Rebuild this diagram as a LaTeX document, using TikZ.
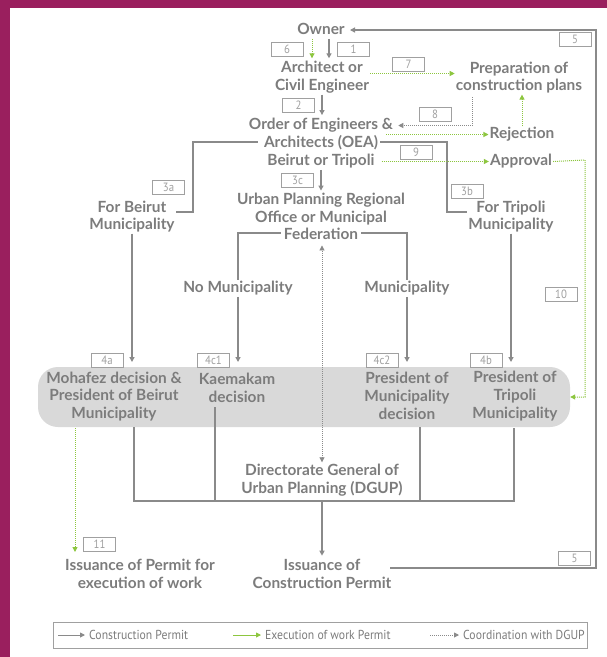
\documentclass[tikz,border=0pt]{standalone}
\usepackage{fontspec}
\setmainfont{Lato}
\newfontfamily\condf[FakeStretch=0.9]{PT Sans}
\usetikzlibrary{arrows.meta,calc}
\definecolor{magbar}{HTML}{9A1F5E}
\definecolor{txtg}{HTML}{7C7C7C}
\definecolor{lineg}{HTML}{8A8A8A}
\definecolor{boxg}{HTML}{D9D9D9}
\definecolor{numg}{HTML}{A0A0A0}
\definecolor{grn}{HTML}{8DC63F}
\tikzset{
  lbl/.style={font=\fontsize{15.4}{17.8}\selectfont\bfseries, text=txtg, align=center, inner sep=1pt},
  row/.style={lbl, text height=11pt, text depth=3.5pt, yshift=-1.5pt},
  num/.style={draw=numg, line width=0.8pt, minimum width=32pt, minimum height=14pt, inner sep=0pt,
              font=\condf\fontsize{12}{12}\selectfont, text=numg},
  legt/.style={font=\condf\fontsize{13}{13}\selectfont, text=txtg, inner sep=0pt},
  tipa/.style={-{Triangle[length=5pt,width=5pt]}},
  cp/.style={draw=lineg, line width=1.2pt},
  cpa/.style={cp, tipa},
  ep/.style={draw=grn, line width=1pt, dash pattern=on 1pt off 1pt},
  epa/.style={ep, tipa},
  co/.style={draw=lineg, line width=0.9pt, dash pattern=on 1pt off 1pt},
  coa/.style={co, tipa},
}
\begin{document}
\begin{tikzpicture}[x=1pt,y=-1pt]
\useasboundingbox (0,0) rectangle (607,657);
\fill[white] (0,0) rectangle (607,657);
\fill[magbar] (0,0) rectangle (10,657);
\fill[magbar] (0,0) rectangle (607,8);

% grey rounded band
\node[fill=boxg, rounded corners=20pt, minimum width=532pt, minimum height=60pt, inner sep=0pt] (gbox) at (304,397) {};

% text nodes
\node[row] (owner) at (321,29) {Owner};
\node[lbl] (arch) at (322,77.5) {Architect or\\Civil Engineer};
\node[lbl] (prep) at (519,77.5) {Preparation of\\construction plans};
\node[row] (oea1) at (321,124) {Order of Engineers \&};
\node[row] (oea2) at (321,142) {Architects (OEA)};
\node[row] (oea3) at (321,160) {Beirut or Tripoli};
\node[row] (rej) at (522,133) {Rejection};
\node[row] (appr) at (521,160) {Approval};
\node[row] (urban1) at (321,199.5) {Urban Planning Regional};
\node[row] (urban2) at (321,217) {Office or Municipal};
\node[row] (fed) at (321,234.5) {Federation};
\node[lbl] (forb) at (132,216.5) {For Beirut\\Municipality};
\node[lbl] (fort) at (511,216.5) {For Tripoli\\Municipality};
\node[row] (nomun) at (238,287) {No Municipality};
\node[row] (mun) at (407,287) {Municipality};
\node[lbl] (moh) at (114,396.5) {Mohafez decision \&\\President of Beirut\\Municipality};
\node[lbl] (kaem) at (237,387.5) {Kaemakam\\decision};
\node[lbl] (presm) at (407,396) {President of\\Municipality\\decision};
\node[lbl] (prest) at (515,396) {President of\\Tripoli\\Municipality};
\node[lbl] (dgup) at (322,480.5) {Directorate General of\\Urban Planning (DGUP)};
\node[lbl] (issx) at (140,573.5) {Issuance of Permit for\\execution of work};
\node[lbl] (issc) at (322,573.5) {Issuance of\\Construction Permit};

% number boxes
\node[num] (n6) at (287,49.5) {6};
\node[num] (n1) at (353.5,49.5) {1};
\node[num] (n7) at (408.5,64) {7};
\node[num] (n2) at (298.5,105.5) {2};
\node[num] (n8) at (435,114.5) {8};
\node[num] (n9) at (416,152.5) {9};
\node[num] (n3c) at (297.5,180.5) {3c};
\node[num] (n3a) at (168.5,187.5) {3a};
\node[num] (n3b) at (467,191) {3b};
\node[num] (n5a) at (575,39) {5};
\node[num] (n10) at (561,294.5) {10};
\node[num] (n4a) at (107,360) {4a};
\node[num] (n4c1) at (213.5,360) {4c1};
\node[num] (n4c2) at (382,360) {4c2};
\node[num] (n4b) at (486,360) {4b};
\node[num] (n11) at (99.5,544) {11};
\node[num] (n5b) at (574.5,558) {5};

% helper coordinates
\coordinate (tipy) at (0,362);
\coordinate (r0) at (390,568);
\coordinate (r1) at (596,568);
\coordinate (r2) at (596,30);
\coordinate (ownT) at (350,30);
\coordinate (bL) at (193,212);
\coordinate (bR) at (447,212);
\coordinate (d1) at (134,427);
\coordinate (d2) at (215,407);
\coordinate (d3) at (420,427);
\coordinate (d4) at (514,428);
\coordinate (bl) at (134,501);
\coordinate (b2) at (215,501);
\coordinate (b3) at (420,501);
\coordinate (br) at (514,501);
\coordinate (bc) at (322,501);
\coordinate (c8) at (472,97);
\coordinate (s9r) at (386,134.5);
\coordinate (c10) at (585,160);
\coordinate (g11a) at (75,428);
\coordinate (g11b) at (75,552);

% construction permit (grey solid)
\draw[cpa] (r0) -- (r1) -- (r2) -- (ownT);
\draw[cpa, shorten >=2pt] ([xshift=8pt]owner.south) -- ([xshift=8pt]owner.south |- arch.north);
\draw[cpa, shorten >=2pt] (arch.south) -- (arch.south |- oea1.north);
\draw[cpa, shorten >=2pt] (oea3.south) -- (oea3.south |- urban1.north);
\draw[cp] ([xshift=-5pt,yshift=1.5pt]oea2.west) -| (bL) -- ([yshift=4.5pt]forb.east);
\draw[cp] ([xshift=1pt,yshift=1.5pt]oea2.east) -| (bR) -- ([yshift=4.5pt]fort.west);
\draw[cpa] (forb.south) -- (forb.south |- tipy);
\draw[cpa] (fort.south) -- (fort.south |- tipy);
\draw[cp] ([xshift=-2pt,yshift=3pt]fed.west) -| (nomun.north);
\draw[cp] ([xshift=2pt,yshift=3pt]fed.east) -| (mun.north);
\draw[cpa] (nomun.south) -- (nomun.south |- tipy);
\draw[cpa] (mun.south) -- (mun.south |- tipy);
\draw[cp] (d1) -- (bl) -- (br) -- (d4);
\draw[cp] (d2) -- (b2);
\draw[cp] (d3) -- (b3);
\draw[cpa, shorten >=2pt] (bc) -- (bc |- issc.north);

% coordination with DGUP (grey dotted)
\draw[co, {Triangle[length=5pt,width=5pt]}-{Triangle[length=5pt,width=5pt]}, shorten <=1pt, shorten >=1pt] (dgup.north) -- (dgup.north |- fed.south);
\draw[coa] (c8) |- ([xshift=4pt]oea1.east);

% execution of work permit (green dotted)
\draw[epa, shorten >=2pt] ([xshift=-9pt]owner.south) -- ([xshift=-9pt]owner.south |- arch.north);
\draw[epa] ([yshift=4pt]arch.east) -- ([yshift=4pt]prep.west);
\draw[epa] (s9r) -- (rej.west);
\draw[epa] (rej.north) -- (rej.north |- prep.south);
\draw[epa] ([xshift=6pt]oea3.east) -- (appr.west);
\draw[epa] (appr.east) -- (c10) |- (gbox.east);
\draw[epa] (g11a) -- (g11b);

% legend
\node[draw=numg, line width=0.8pt, minimum width=534pt, minimum height=26pt, inner sep=0pt] (leg) at (320,635) {};
\node[legt, anchor=west] (lt1) at (89,635) {Construction Permit};
\node[legt, anchor=west] (lt2) at (265,635) {Execution of work Permit};
\node[legt, anchor=west] (lt3) at (463,635) {Coordination with DGUP};
\coordinate (la1) at (58,635);
\coordinate (la2) at (233,635);
\coordinate (la3) at (430,635);
\draw[cpa, line width=0.9pt, shorten >=4pt] (la1) -- (lt1.west);
\draw[draw=grn, line width=0.9pt, tipa, shorten >=4pt] (la2) -- (lt2.west);
\draw[coa, shorten >=4pt] (la3) -- (lt3.west);
\end{tikzpicture}
\end{document}
